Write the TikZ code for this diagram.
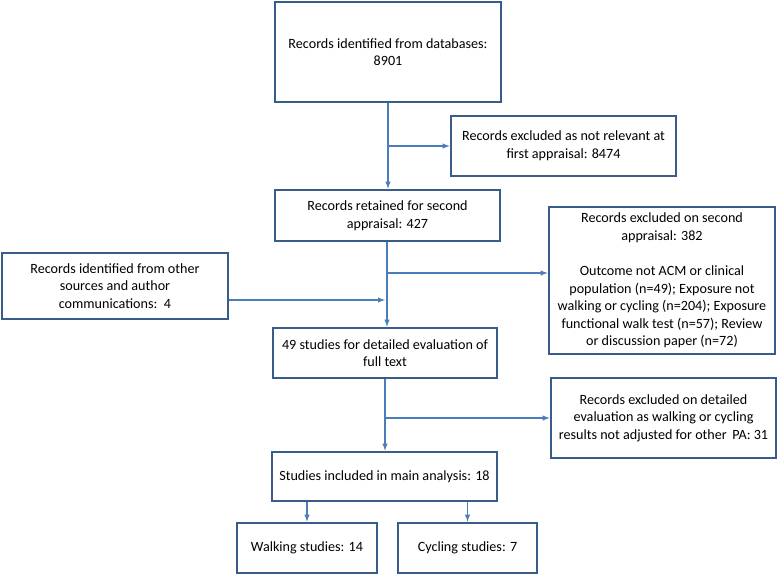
\documentclass[tikz,border=0pt]{standalone}
\usepackage{fontspec}
\setmainfont{Carlito}
\usetikzlibrary{arrows,positioning}
\definecolor{boxblue}{HTML}{385D8A}
\definecolor{linkblue}{HTML}{4A7EBB}

\begin{document}
\begin{tikzpicture}[
    x=0.75pt, y=-0.75pt,
    % Define styles for boxes and connectors
    box/.style={draw=boxblue, line width=2pt, fill=white, align=center, minimum width=168.75pt, inner sep=2pt, font=\fontsize{10.6}{13.2}\selectfont},
    arrow/.style={->, >=latex, draw=linkblue, line width=0.8pt},
    link/.style={draw=linkblue, line width=0.8pt}
]

% Fix the page to the reference size
\useasboundingbox (0,0) rectangle (778,576);

% Main column
\node[box, minimum width=169.5pt, minimum height=75pt] (databases) at (388,52) {Records identified from databases:\\8901};
\node[box, minimum height=38.25pt] (retained) at (387.5,215.5) {Records retained for second\\appraisal: 427};
\node[box, minimum width=168pt, minimum height=37.5pt] (fulltext) at (385,353) {49 studies for detailed evaluation of\\full text};
\node[box, minimum height=36.75pt] (included) at (384.5,476.5) {Studies included in main analysis: 18};

% Split into walking and cycling
\node[box, minimum width=105pt, minimum height=37.5pt] (walking) at (307,548) {Walking studies: 14};
\node[box, minimum width=104.25pt, minimum height=37.5pt] (cycling) at (467.5,548) {Cycling studies: 7};

% Exclusion boxes on the right
\node[box, minimum height=45pt] (notrelevant) at (563.5,146) {Records excluded as not relevant at\\first appraisal: 8474};
\node[box, minimum width=169.5pt, minimum height=110.25pt] (secondexcl) at (662,280.5) {Records excluded on second\\appraisal: 382\\[13.2pt]Outcome not ACM or clinical\\population (n=49); Exposure not\\walking or cycling (n=204); Exposure\\functional walk test (n=57); Review\\or discussion paper (n=72)};
\node[box, minimum height=60pt] (notadjusted) at (663.5,418) {Records excluded on detailed\\evaluation as walking or cycling\\results not adjusted for other\, PA: 31};

% Extra records on the left
\node[box, minimum width=169.5pt, minimum height=49.5pt] (othersources) at (115,286) {Records identified from other\\sources and author\\communications:\, 4};

% Branch points on the main line
\coordinate (split1) at (databases.south |- notrelevant.west);
\coordinate (split2) at (387,273);
\coordinate (merge) at (387,300);
\coordinate (split3) at (fulltext.south |- notadjusted.west);

% Main flow
\draw[link] (databases.south) -- (split1);
\draw[arrow] (split1) -- (retained.north -| split1);
\draw[arrow] (retained.south -| split2) -- (fulltext.north -| split2);
\draw[arrow] (fulltext.south -| split3) -- (included.north -| split3);
\draw[arrow] (included.south -| walking.north) -- (walking.north);
\draw[arrow] (included.south -| cycling.north) -- (cycling.north);

% Exclusions
\draw[arrow] (split1) -- (notrelevant.west);
\draw[arrow] (split2) -- (secondexcl.west |- split2);
\draw[arrow] (split3) -- (notadjusted.west);

% Records added from other sources
\draw[arrow, shorten >=1.5pt] (othersources.east |- merge) -- (merge);

\end{tikzpicture}
\end{document}
